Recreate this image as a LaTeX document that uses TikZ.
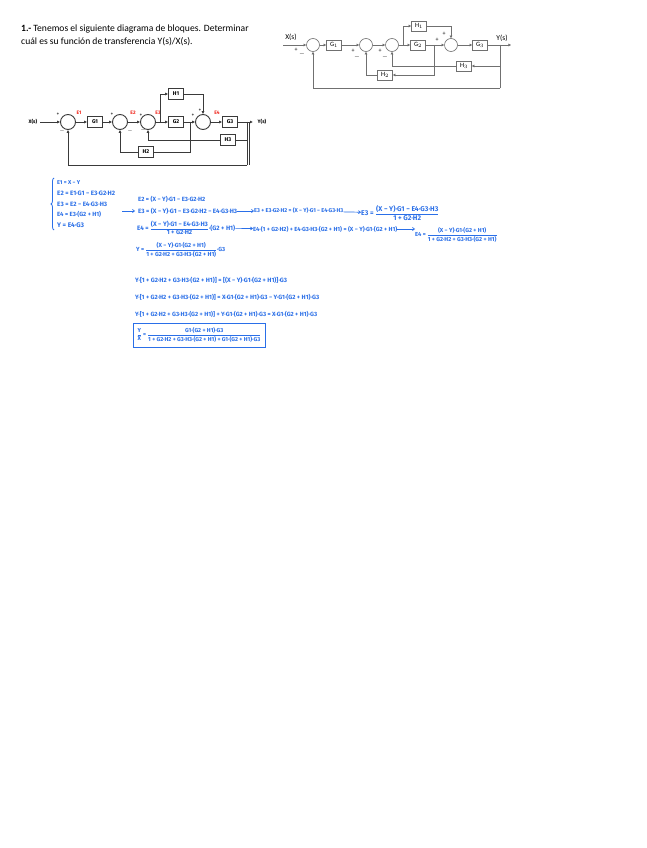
\documentclass[tikz,border=0pt]{standalone}
\usepackage{fontspec}
\usepackage{amsmath}
\setmainfont{Carlito}
\newfontfamily\hand{Fira Sans}
\usetikzlibrary{arrows.meta,decorations.pathreplacing}
\definecolor{pen}{HTML}{2A6FE8}
\definecolor{ink}{HTML}{3A3A3A}
\definecolor{gry}{HTML}{707070}
\definecolor{redl}{HTML}{F0281E}
\newcommand{\hw}[2]{\resizebox{#1pt}{!}{\hand\bfseries #2}}
\newcommand{\fr}[2]{$\dfrac{\text{#1}}{\text{#2}}$}
\begin{document}
\begin{tikzpicture}[x=1pt,y=-1pt,
  pblk/.style={draw=gry,line width=0.6pt,minimum width=15pt,minimum height=10pt,inner sep=0pt,font=\fontsize{6.5}{6.5}\selectfont},
  psum/.style={circle,draw=gry,line width=0.6pt,minimum size=13pt,inner sep=0pt},
  pa/.style={draw=gry,line width=0.6pt,-{Triangle[length=2.6pt,width=2.6pt]}},
  pl/.style={draw=gry,line width=0.6pt},
  psign/.style={font=\fontsize{6}{6}\selectfont,inner sep=0pt},
  hblk/.style={draw=ink,line width=0.9pt,minimum width=15pt,minimum height=11pt,inner sep=0pt,font=\fontsize{5.5}{5.5}\selectfont\hand\bfseries},
  hsum/.style={circle,draw=ink,line width=0.9pt,minimum size=15pt,inner sep=0pt},
  ha/.style={draw=ink,line width=0.9pt,-{Latex[length=3pt,width=3pt]}},
  hl/.style={draw=ink,line width=0.9pt},
  hsign/.style={font=\fontsize{4.5}{4.5}\selectfont\bfseries,inner sep=0pt},
  elab/.style={font=\fontsize{5}{5}\selectfont\hand\bfseries,text=redl,inner sep=0pt},
  heq/.style={anchor=west,inner sep=0pt,text=pen},
  harr/.style={draw=pen,line width=0.7pt,-{Straight Barb[length=2pt,width=3pt]}}
]
\useasboundingbox (0,0) rectangle (646,848);
\fill[white] (0,0) rectangle (646,848);

% ---------- statement ----------
\node[anchor=north west,align=left,inner sep=0pt,font=\fontsize{9.6}{13}\selectfont] (title) at (21,25)
  {\textbf{1.-} Tenemos el siguiente diagrama de bloques. Determinar\\cuál es su función de transferencia Y(s)/X(s).};

% ---------- printed block diagram ----------
\coordinate (xin) at (283,45);
\node[psum] (s1) at (313,45) {};
\node[pblk] (g1) at (334,45) {G$_1$};
\node[psum] (s2) at (366,45) {};
\node[psum] (s3) at (392,45) {};
\node[pblk] (g2) at (418,45) {G$_2$};
\node[pblk] (h1) at (419,26) {H$_1$};
\node[psum] (s4) at (451,45) {};
\node[pblk] (g3) at (480,45) {G$_3$};
\node[pblk] (h3) at (464,66) {H$_3$};
\node[pblk] (h2) at (385,75) {H$_2$};
\coordinate (tb) at (403,45);
\coordinate (tg2) at (434,45);
\coordinate (ty) at (500,45);
\coordinate (yout) at (511,45);
\coordinate (pbot) at (500,88);
\node[font=\fontsize{7.5}{7.5}\selectfont,inner sep=0pt] (xl) at (291,37) {X(s)};
\node[font=\fontsize{7.5}{7.5}\selectfont,inner sep=0pt] (yl) at (502,38) {Y(s)};
\node[psign] (p1) at (296,50) {+};
\node[psign] (m1) at (302,54) {$-$};
\node[psign] (p2) at (353,51) {+};
\node[psign] (m2) at (357,57) {$-$};
\node[psign] (p3) at (380,51) {+};
\node[psign] (m3) at (385,57) {$-$};
\node[psign] (p4) at (444,34) {+};
\node[psign] (p5) at (437,40) {+};
\draw[pa] (xin) -- (s1);
\draw[pa] (s1) -- (g1);
\draw[pa] (g1) -- (s2);
\draw[pa] (s2) -- (s3);
\draw[pa] (s3) -- (g2);
\draw[pa] (tb) |- (h1);
\draw[pa] (h1) -| (s4);
\draw[pa] (g2) -- (s4);
\draw[pa] (s4) -- (g3);
\draw[pa] (g3) -- (yout);
\draw[pa] (ty) |- (h3);
\draw[pa] (h3) -| (s3);
\draw[pa] (tg2) |- (h2);
\draw[pa] (h2) -| (s2);
\draw[pl] (ty) -- (pbot);
\draw[pa] (pbot) -| (s1);

% ---------- hand-drawn block diagram ----------
\coordinate (hx) at (40,122);
\node[hsum] (hs1) at (68,122) {};
\node[hblk] (hg1) at (95,122) {G1};
\node[hsum] (hs2) at (120,122) {};
\node[hsum] (hs3) at (148,122) {};
\node[hblk] (hg2) at (176,122) {G2};
\node[hblk] (hh1) at (176,94) {H1};
\node[hsum] (hs4) at (203,122) {};
\node[hblk] (hg3) at (230,122) {G3};
\node[hblk] (hh3) at (228,140) {H3};
\node[hblk] (hh2) at (146,152) {H2};
\coordinate (htb) at (160,122);
\coordinate (htg2) at (190,122);
\coordinate (hty) at (247,122);
\coordinate (hyout) at (253,122);
\coordinate (hbot) at (247,165);
\node[font=\fontsize{5}{5}\selectfont\hand\bfseries,inner sep=0pt] (hxl) at (33,122) {X(s)};
\node[font=\fontsize{5}{5}\selectfont\hand\bfseries,inner sep=0pt] (hyl) at (262,122) {Y(s)};
\node[elab] (e1) at (79,113) {E1};
\node[elab] (e2) at (133,113) {E2};
\node[elab] (e3) at (158,113) {E3};
\node[elab] (e4) at (217,113) {E4};
\node[hsign] (hp1) at (58,114) {+};
\node[hsign] (hm1) at (62,131) {$-$};
\node[hsign] (hp2) at (112,114) {+};
\node[hsign] (hm2) at (130,131) {$-$};
\node[hsign] (hp3) at (141,115) {+};
\node[hsign] (hm3) at (143,130) {$-$};
\node[hsign] (hp4) at (200,110) {+};
\node[hsign] (hp5) at (193,115) {+};
\draw[ha] (hx) -- (hs1);
\draw[ha] (hs1) -- (hg1);
\draw[ha] (hg1) -- (hs2);
\draw[ha] (hs2) -- (hs3);
\draw[ha] (hs3) -- (hg2);
\draw[ha] (htb) |- (hh1);
\draw[ha] (hh1) -| (hs4);
\draw[ha] (hg2) -- (hs4);
\draw[ha] (hs4) -- (hg3);
\draw[ha] (hg3) -- (hyout);
\draw[hl] (hty) |- (hh3);
\draw[ha] (hh3) -| (hs3);
\draw[hl] (htg2) |- (hh2);
\draw[ha] (hh2) -| (hs2);
\draw[hl] (hty) -- (hbot);
\draw[ha] (hbot) -| (hs1);
\draw[ink,line width=0.6pt] ([xshift=2pt]hty) -- ([xshift=2pt]hbot);

% ---------- equations ----------
\draw[pen,line width=0.8pt,decorate,decoration={brace,amplitude=3pt}] (54,230) -- (54,178);
\node[heq] (q1) at (57,183) {\hw{23}{E1 = X − Y}};
\node[heq] (q2) at (57,193) {\hw{58}{E2 = E1·G1 − E3·G2·H2}};
\node[heq] (q3) at (57,204) {\hw{50}{E3 = E2 − E4·G3·H3}};
\node[heq] (q4) at (57,214) {\hw{44}{E4 = E3·(G2 + H1)}};
\node[heq] (q5) at (57,225) {\hw{27}{Y = E4·G3}};
\coordinate (ar0) at (122,211);
\coordinate (ar1) at (135,211);
\draw[harr] (ar0) -- (ar1);

\node[heq] (r1) at (138,199) {\hw{67}{E2 = (X − Y)·G1 − E3·G2·H2}};
\node[heq] (r2) at (138,211) {\hw{99}{E3 = (X − Y)·G1 − E3·G2·H2 − E4·G3·H3}};
\node[heq] (r3) at (254,211) {\hw{89}{E3 + E3·G2·H2 = (X − Y)·G1 − E4·G3·H3}};
\node[heq] (r4) at (361,213) {\hw{78}{E3 = \fr{(X − Y)·G1 − E4·G3·H3}{1 + G2·H2}}};
\draw[harr] (r2) -- (r3);
\draw[harr] (r3) -- (r4);

\node[heq] (t1) at (137,228) {\hw{98}{E4 = \fr{(X − Y)·G1 − E4·G3·H3}{1 + G2·H2}·(G2 + H1)}};
\node[heq] (t2) at (253,229) {\hw{144}{E4·(1 + G2·H2) + E4·G3·H3·(G2 + H1) = (X − Y)·G1·(G2 + H1)}};
\node[heq] (t3) at (415,235) {\hw{82}{E4 = \fr{(X − Y)·G1·(G2 + H1)}{1 + G2·H2 + G3·H3·(G2 + H1)}}};
\draw[harr] (t1) -- (t2);
\draw[harr] (t2.east) -- (t3.west |- t2.east);

\node[heq] (u1) at (136,250) {\hw{89}{Y = \fr{(X − Y)·G1·(G2 + H1)}{1 + G2·H2 + G3·H3·(G2 + H1)}·G3}};

\node[heq] (v1) at (135,280) {\hw{152}{Y·[1 + G2·H2 + G3·H3·(G2 + H1)] = [(X − Y)·G1·(G2 + H1)]·G3}};
\node[heq] (v2) at (135,297) {\hw{184}{Y·[1 + G2·H2 + G3·H3·(G2 + H1)] = X·G1·(G2 + H1)·G3 − Y·G1·(G2 + H1)·G3}};
\node[heq] (v3) at (135,314) {\hw{182}{Y·[1 + G2·H2 + G3·H3·(G2 + H1)] + Y·G1·(G2 + H1)·G3 = X·G1·(G2 + H1)·G3}};

\node[draw=pen,line width=1pt,text=pen,inner sep=0pt,minimum width=132pt,minimum height=24pt] (res) at (199,335)
  {\hw{124}{\fr{Y}{X} = \fr{G1·(G2 + H1)·G3}{1 + G2·H2 + G3·H3·(G2 + H1) + G1·(G2 + H1)·G3}}};
\end{tikzpicture}
\end{document}
